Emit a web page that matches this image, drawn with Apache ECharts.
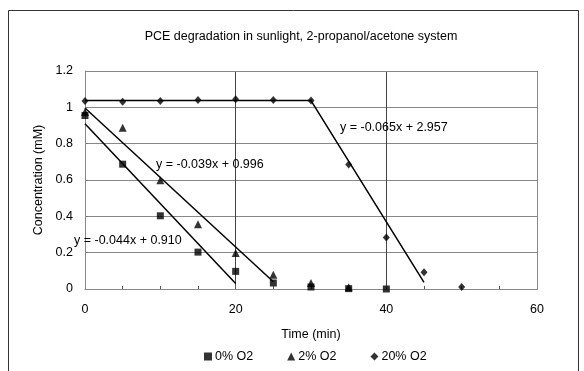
<!DOCTYPE html>
<html><head><meta charset="utf-8">
<script src="https://cdn.jsdelivr.net/npm/echarts@6/dist/echarts.min.js"></script>
<style>html,body{margin:0;padding:0;background:#fff}#c{width:584px;height:371px}</style>
</head><body><div id="c"></div>
<script>
const times = [0, 5, 10, 15, 20, 25, 30, 35, 40, 45, 50];
const o2_0 = [0.955, 0.687, 0.403, 0.203, 0.097, 0.033, 0.011, 0.002, 0.0];
const o2_2 = [0.975, 0.888, 0.599, 0.357, 0.198, 0.079, 0.033, 0.010];
const o2_20 = [1.035, 1.031, 1.035, 1.040, 1.044, 1.040, 1.037, 0.685, 0.284, 0.092, 0.011];
const fit0 = [[0, 0.910], [20, 0.030]];
const fit2 = [[0, 0.996], [25, 0.040]];
const fit20 = [[0, 1.037], [30, 1.037], [45, 0.037]];
const xTicks = [0, 20, 40, 60];
const yTicks = [0, 0.2, 0.4, 0.6, 0.8, 1, 1.2];
const eq0 = 'y = -0.044x + 0.910';
const eq2 = 'y = -0.039x + 0.996';
const eq20 = 'y = -0.065x + 2.957';

const pts = arr => arr.map((v, i) => [times[i], v]);
const font = 'Liberation Sans, Arial, sans-serif';
const chart = echarts.init(document.getElementById('c'));
const fitLine = (name, d) => ({
  type: 'line', name: name, data: d, symbol: 'none', silent: true,
  lineStyle: {color: '#000', width: 1.5}, z: 2, legendHoverLink: false
});
chart.setOption({
  animation: false,
  textStyle: {fontFamily: font},
  title: {text: 'PCE degradation in sunlight, 2-propanol/acetone system', left: 296, textAlign: 'center', top: 25,
    textStyle: {fontSize: 12.5, fontWeight: 'normal', color: '#000', fontFamily: font}},
  grid: {left: 85, right: 47, top: 71, bottom: 82},
  legend: {bottom: 3, left: 199, itemGap: 34, itemWidth: 8, itemHeight: 8,
    textStyle: {fontSize: 12.5, color: '#000', fontFamily: font, padding: [0, 0, 0, -2]},
    data: ['0% O2', '2% O2', '20% O2']},
  xAxis: {type: 'value', min: xTicks[0], max: xTicks[xTicks.length - 1], interval: 20,
    name: 'Time (min)', nameLocation: 'middle', nameGap: 39,
    nameTextStyle: {fontSize: 12.5, color: '#000', fontFamily: font},
    axisLine: {lineStyle: {color: '#777'}},
    axisTick: {show: true, inside: true, length: 4, lineStyle: {color: '#555'}},
    minorTick: {show: true, splitNumber: 4, length: 3, lineStyle: {color: '#555'}},
    axisLabel: {fontSize: 12.5, color: '#000', margin: 14},
    splitLine: {show: true, lineStyle: {color: '#444', width: 1}}},
  yAxis: {type: 'value', min: 0, max: 1.2, interval: 0.2,
    name: 'Concentration (mM)', nameLocation: 'middle', nameGap: 40,
    nameTextStyle: {fontSize: 12.5, color: '#000', fontFamily: font},
    axisLine: {show: true, lineStyle: {color: '#888'}},
    axisTick: {show: true, inside: true, length: 3, lineStyle: {color: '#777'}},
    axisLabel: {fontSize: 12.5, color: '#000', margin: 12, formatter: v => String(Math.round(v * 10) / 10)},
    splitLine: {show: true, lineStyle: {color: '#888', width: 1}}},
  graphic: [
    {type: 'rect', shape: {x: 8.5, y: 10.5, width: 570, height: 370}, style: {fill: 'none', stroke: '#333', lineWidth: 1}, z: -1},
    {type: 'rect', shape: {x: 85.5, y: 71.5, width: 452, height: 218}, style: {fill: 'none', stroke: '#888', lineWidth: 1}, z: 1},
    {type: 'text', left: 340, top: 121, style: {text: eq20, font: '12.5px ' + font, fill: '#000'}, z: 10},
    {type: 'text', left: 156, top: 158, style: {text: eq2, font: '12.5px ' + font, fill: '#000'}, z: 10},
    {type: 'text', left: 74, top: 234, style: {text: eq0, font: '12.5px ' + font, fill: '#000'}, z: 10}
  ],
  series: [
    {type: 'scatter', name: '0% O2', data: pts(o2_0), symbol: 'rect', symbolSize: 7, itemStyle: {color: '#000'}, z: 3},
    {type: 'scatter', name: '2% O2', data: pts(o2_2), symbol: 'triangle', symbolSize: 8, itemStyle: {color: '#000'}, z: 3},
    {type: 'scatter', name: '20% O2', data: pts(o2_20), symbol: 'diamond', symbolSize: [7, 8], itemStyle: {color: '#000'}, z: 3},
    fitLine('fit0', fit0), fitLine('fit2', fit2), fitLine('fit20', fit20)
  ]
});
</script></body></html>
